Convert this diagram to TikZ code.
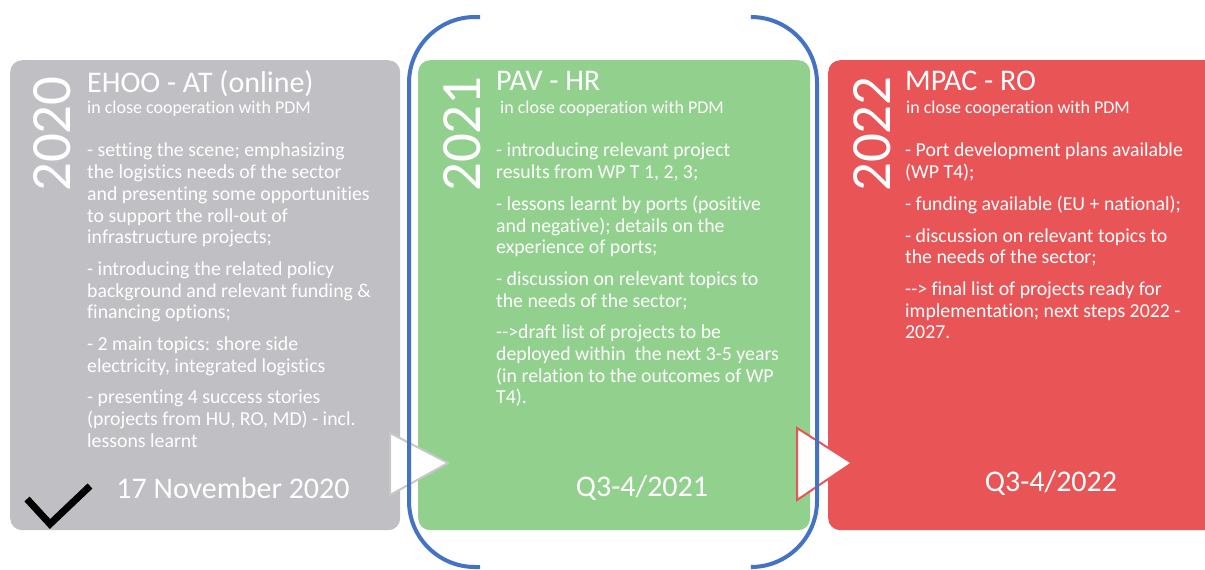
\documentclass[tikz,border=0pt]{standalone}
\usepackage{fontspec}
\setmainfont{Carlito}[Ligatures={TeX,NoCommon}]
\definecolor{boxgray}{RGB}{192,192,196}
\definecolor{boxgreen}{RGB}{146,208,142}
\definecolor{boxred}{RGB}{233,84,86}
\definecolor{brblue}{RGB}{68,114,196}
\definecolor{triedge}{RGB}{200,200,204}
\begin{document}
\begin{tikzpicture}[x=1pt,y=-1pt,
  panel/.style={draw=none,rounded corners=12pt,minimum width=#1,minimum height=470pt,anchor=north west,inner sep=0pt},
  yearlbl/.style={text=white,font=\fontsize{57}{60}\selectfont,anchor=base west,rotate=90,inner sep=0pt},
  titlelbl/.style={text=white,font=\fontsize{30}{32}\selectfont,anchor=base west,inner sep=0pt},
  sublbl/.style={text=white,font=\fontsize{18}{20}\selectfont,anchor=base west,inner sep=0pt},
  bodylbl/.style={text=white,font=\fontsize{19.8}{21.7}\selectfont,anchor=north west,align=left,inner sep=0pt},
  datelbl/.style={text=white,font=\fontsize{30}{32}\selectfont,anchor=base,inner sep=0pt},
  bracket/.style={draw=brblue,line width=4pt,rounded corners=66pt}
]
\useasboundingbox (0,0) rectangle (1205,570);
\fill[white] (0,0) rectangle (1205,570);

% panels
\node[panel=390pt,fill=boxgray] (p1) at (10,60) {};
\node[panel=392pt,fill=boxgreen] (p2) at (418,60) {};
\node[panel=420pt,fill=boxred] (p3) at (828,60) {};

% arrow triangles
\draw[fill=white,draw=triedge,line width=2pt,line join=miter] (390,433) -- (448,463) -- (390,495) -- cycle;
\draw[fill=white,draw=boxred,line width=2pt,line join=miter] (797,428) -- (852,463) -- (797,500) -- cycle;

% blue brackets
\draw[bracket] (480,17) -- (409,17) -- (409,567) -- (480,567);
\draw[bracket] (752,17) -- (817,17) -- (817,567) -- (753,567);

% check mark
\draw[line width=7pt,line join=miter] (27,499) -- (50,524) -- (90,486);

% years
\node[yearlbl] (y1) at (70,192) {2020};
\node[yearlbl] (y2) at (480,192) {2021};
\node[yearlbl] (y3) at (890,192) {2022};

% titles
\node[titlelbl] (h1) at (87,92) {EHOO - AT (online)};
\node[titlelbl] (h2) at (496,90) {PAV - HR};
\node[titlelbl] (h3) at (905,90) {MPAC - RO};

\node[sublbl] (s1) at (87,113) {in close cooperation with PDM};
\node[sublbl] (s2) at (500,113) {in close cooperation with PDM};
\node[sublbl] (s3) at (906,113) {in close cooperation with PDM};

% bodies
\node[bodylbl] (b1) at (87,143) {- setting the scene; emphasizing\\
the logistics needs of the sector\\
and presenting some opportunities\\
to support the roll-out of\\
infrastructure projects;\\[10pt]
- introducing the related policy\\
background and relevant funding \&\\
financing options;\\[10pt]
- 2 main topics: shore side\\
electricity, integrated logistics\\[10pt]
- presenting 4 success stories\\
(projects from HU, RO, MD) - incl.\\
lessons learnt};

\node[bodylbl] (b2) at (496,143) {- introducing relevant project\\
results from WP T 1, 2, 3;\\[10pt]
- lessons learnt by ports (positive\\
and negative); details on the\\
experience of ports;\\[10pt]
- discussion on relevant topics to\\
the needs of the sector;\\[10pt]
-{}->draft list of projects to be\\
deployed within\ \ the next 3-5 years\\
(in relation to the outcomes of WP\\
T4).};

\node[bodylbl] (b3) at (905,143) {- Port development plans available\\
(WP T4);\\[10pt]
- funding available (EU + national);\\[10pt]
- discussion on relevant topics to\\
the needs of the sector;\\[10pt]
-{}-> final list of projects ready for\\
implementation; next steps 2022 -\\
2027.};

% dates
\node[datelbl] (d1) at (233,498) {17 November 2020};
\node[datelbl] (d2) at (642,496) {Q3-4/2021};
\node[datelbl] (d3) at (1051,491) {Q3-4/2022};
\end{tikzpicture}
\end{document}
